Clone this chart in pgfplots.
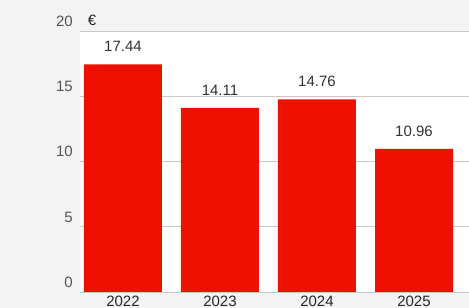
\documentclass[border=0pt]{standalone}
\usepackage{pgfplots}
\pgfplotsset{compat=1.18}
\usepackage{fontspec}
\setmainfont{Liberation Sans}
\definecolor{bg}{HTML}{F3F3F3}
\definecolor{barred}{HTML}{EE1100}
\definecolor{gridc}{HTML}{C8C8C8}
\definecolor{ticktext}{HTML}{555555}
\definecolor{valtext}{HTML}{333333}
\begin{document}
\begin{tikzpicture}[x=1pt,y=1pt]
\fill[bg] (0,0) rectangle (469,308);
\useasboundingbox (0,0) rectangle (469,308);
\begin{axis}[
  at={(80pt,16pt)}, anchor=south west,
  scale only axis, width=389pt, height=261pt,
  xmin=-0.443, xmax=3.567, ymin=0, ymax=20,
  axis background/.style={fill=white},
  axis line style={draw=none},
  ymajorgrids, grid style={gridc, line width=0.8pt},
  major tick length=0pt,
  ytick={0,5,10,15,20},
  xtick={0,1,2,3}, xticklabels={2022,2023,2024,2025},
  font=\fontsize{15}{18}\selectfont,
  /pgf/number format/assume math mode=true,
  yticklabel style={anchor=base east, inner sep=0pt, xshift=-7pt, yshift=4.6pt, text=ticktext},
  xticklabel style={anchor=base, inner sep=0pt, yshift=-14.4pt, text=black!85},
  ybar, bar width=78pt,
  nodes near coords,
  nodes near coords style={anchor=center, yshift=18pt, text=valtext, /pgf/number format/fixed, /pgf/number format/precision=2, /pgf/number format/fixed zerofill},
  clip=false,
]
\addplot[fill=barred, draw=none, bar shift=0pt] coordinates {(0,17.44) (1,14.11) (2,14.76) (3,10.96)};
\node[text=black!85, font=\fontsize{15}{18}\selectfont] at (rel axis cs:0,1) [xshift=12pt, yshift=11pt] {€};
\end{axis}
\end{tikzpicture}
\end{document}
